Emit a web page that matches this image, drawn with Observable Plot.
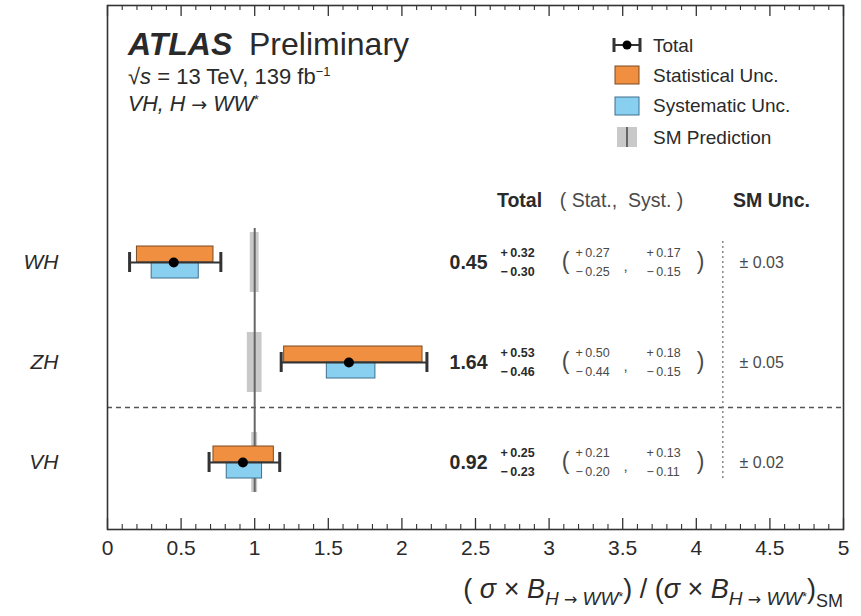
<!DOCTYPE html>
<html><head><meta charset="utf-8">
<script src="https://cdn.jsdelivr.net/npm/d3@7"></script>
<script src="https://cdn.jsdelivr.net/npm/@observablehq/plot@0.6"></script>
<style>body{margin:0;background:#fff} svg{display:block}</style>
</head><body><div id="chart"></div>
<script>
// ---- data ----
const categories = ["WH", "ZH", "VH"];
const positions = [3, 2, 1];
const mu = [0.45, 1.64, 0.92];
const totUp = [0.32, 0.53, 0.25];
const totDn = [0.30, 0.46, 0.23];
const statUp = [0.27, 0.50, 0.21];
const statDn = [0.25, 0.44, 0.20];
const systUp = [0.17, 0.18, 0.13];
const systDn = [0.15, 0.15, 0.11];
const smUnc = [0.03, 0.05, 0.02];
const smValue = 1;
const xTicks = [0, 0.5, 1, 1.5, 2, 2.5, 3, 3.5, 4, 4.5, 5];
const xTickLabels = ["0", "0.5", "1", "1.5", "2", "2.5", "3", "3.5", "4", "4.5", "5"];
const minorTicks = d3.range(0, 51).map(i => i / 10).filter(v => Math.abs(v * 2 - Math.round(v * 2)) > 1e-6);

const rows = categories.map((c, i) => ({
  cat: c, pos: positions[i], mu: mu[i],
  totUp: totUp[i], totDn: totDn[i], statUp: statUp[i], statDn: statDn[i],
  systUp: systUp[i], systDn: systDn[i], sm: smUnc[i]
}));

const W = 861, H = 616, mL = 107, mR = 18, mT = 5, mB = 87;
const FH = H - mT - mB;
const fmt = v => v.toFixed(2);
const ORANGE = "#ef8f3f", ORANGE_S = "#7a4b22", BLUE = "#88cff0", BLUE_S = "#3e6f8c";
const INK = "#2a2a2a", GREY = "#4a4a4a";
const FONT = "'Liberation Sans', Arial, Helvetica, sans-serif";
const ARROWFONT = "'DejaVu Sans', sans-serif";
const NB = "\u00a0";

const chart = Plot.plot({
  width: W, height: H,
  marginLeft: mL, marginRight: mR, marginTop: mT, marginBottom: mB,
  style: {fontFamily: FONT, background: "#fff"},
  x: {domain: [0, 5], axis: null},
  y: {domain: [0.33, 5.57], axis: null},
  marks: [
    // ticks (inward)
    Plot.ruleX(xTicks, {x: d => d, insetTop: FH - 11, stroke: "#333", strokeWidth: 1.3}),
    Plot.ruleX(minorTicks, {x: d => d, insetTop: FH - 5, stroke: "#333", strokeWidth: 1.1}),
    Plot.ruleX(xTicks, {x: d => d, insetBottom: FH - 11, stroke: "#333", strokeWidth: 1.3}),
    Plot.ruleX(minorTicks, {x: d => d, insetBottom: FH - 5, stroke: "#333", strokeWidth: 1.1}),
    Plot.text(xTicks, {x: d => d, frameAnchor: "bottom", dy: 11, lineAnchor: "top",
      text: d => xTickLabels[xTicks.indexOf(d)], fontSize: 21, fill: INK}),
    // category labels
    Plot.text(rows, {y: "pos", frameAnchor: "left", dx: -49, textAnchor: "end", text: "cat",
      fontStyle: "italic", fontSize: 21, fill: INK}),
    // separators
    Plot.ruleY([1.55], {stroke: "#555", strokeWidth: 1.5, strokeDasharray: "5,4"}),
    Plot.ruleX([4.18], {y1: 0.84, y2: 3.24, stroke: "#888", strokeWidth: 1.5, strokeDasharray: "2,3"}),
    // SM prediction
    Plot.rect(rows, {x1: d => smValue - d.sm, x2: d => smValue + d.sm, y1: d => d.pos - 0.3, y2: d => d.pos + 0.3, fill: "#c9c9c9"}),
    Plot.ruleX([smValue], {y1: 0.7, y2: 3.34, stroke: "#666", strokeWidth: 2}),
    // stat & syst boxes
    Plot.rect(rows, {x1: d => d.mu - d.statDn, x2: d => d.mu + d.statUp, y1: "pos", y2: d => d.pos + 0.16,
      fill: ORANGE, stroke: ORANGE_S, strokeWidth: 1}),
    Plot.rect(rows, {x1: d => d.mu - d.systDn, x2: d => d.mu + d.systUp, y1: d => d.pos - 0.16, y2: "pos",
      fill: BLUE, stroke: BLUE_S, strokeWidth: 1}),
    // total error bar
    Plot.ruleY(rows, {y: "pos", x1: d => d.mu - d.totDn, x2: d => d.mu + d.totUp, stroke: "#333", strokeWidth: 2}),
    Plot.ruleX(rows, {x: d => d.mu - d.totDn, y1: d => d.pos - 0.1, y2: d => d.pos + 0.1, stroke: "#333", strokeWidth: 3}),
    Plot.ruleX(rows, {x: d => d.mu + d.totUp, y1: d => d.pos - 0.1, y2: d => d.pos + 0.1, stroke: "#333", strokeWidth: 3}),
    Plot.dot(rows, {x: "mu", y: "pos", r: 5, fill: "#000", stroke: "none"}),
    // value columns
    Plot.text(rows, {y: "pos", frameAnchor: "left", dx: 380, textAnchor: "end", text: d => fmt(d.mu),
      fontSize: 19.5, fontWeight: "bold", fill: INK}),
    Plot.text(rows, {y: "pos", frameAnchor: "left", dx: 393, dy: -10, textAnchor: "start", text: d => "+\u2009" + fmt(d.totUp),
      fontSize: 12.5, fontWeight: "bold", fill: INK}),
    Plot.text(rows, {y: "pos", frameAnchor: "left", dx: 393, dy: 9, textAnchor: "start", text: d => "\u2212\u2009" + fmt(d.totDn),
      fontSize: 12.5, fontWeight: "bold", fill: INK}),
    Plot.text(rows, {y: "pos", frameAnchor: "left", dx: 458, dy: -1, textAnchor: "middle", text: d => "(",
      fontSize: 23, fill: GREY}),
    Plot.text(rows, {y: "pos", frameAnchor: "left", dx: 468, dy: -10, textAnchor: "start", text: d => "+\u2009" + fmt(d.statUp),
      fontSize: 12.5, fill: GREY}),
    Plot.text(rows, {y: "pos", frameAnchor: "left", dx: 468, dy: 9, textAnchor: "start", text: d => "\u2212\u2009" + fmt(d.statDn),
      fontSize: 12.5, fill: GREY}),
    Plot.text(rows, {y: "pos", frameAnchor: "left", dx: 518, dy: 4, textAnchor: "middle", text: d => ",",
      fontSize: 15, fill: GREY}),
    Plot.text(rows, {y: "pos", frameAnchor: "left", dx: 539, dy: -10, textAnchor: "start", text: d => "+\u2009" + fmt(d.systUp),
      fontSize: 12.5, fill: GREY}),
    Plot.text(rows, {y: "pos", frameAnchor: "left", dx: 539, dy: 9, textAnchor: "start", text: d => "\u2212\u2009" + fmt(d.systDn),
      fontSize: 12.5, fill: GREY}),
    Plot.text(rows, {y: "pos", frameAnchor: "left", dx: 593, dy: -1, textAnchor: "middle", text: d => ")",
      fontSize: 23, fill: GREY}),
    Plot.text(rows, {y: "pos", frameAnchor: "left", dx: 632, textAnchor: "start", text: d => "\u00b1 " + fmt(d.sm),
      fontSize: 16, fill: GREY}),
    // column headers
    Plot.text(["Total"], {frameAnchor: "top-left", dx: 412, dy: 195, lineAnchor: "middle", textAnchor: "middle", text: d => d,
      fontSize: 19.5, fontWeight: "bold", fill: INK}),
    Plot.text(["( Stat.,  Syst. )"], {frameAnchor: "top-left", dx: 514, dy: 195, lineAnchor: "middle", textAnchor: "middle", text: d => d,
      fontSize: 19.5, fill: GREY}),
    Plot.text(["SM Unc."], {frameAnchor: "top-left", dx: 664, dy: 195, lineAnchor: "middle", textAnchor: "middle", text: d => d,
      fontSize: 19.5, fontWeight: "bold", fill: INK}),
    Plot.frame({stroke: "#333", strokeWidth: 1.6})
  ]
});

document.getElementById("chart").appendChild(chart);
const svg = d3.select(chart);

function richText(x, y, anchor, parts, base) {
  const t = svg.append("text").attr("x", x).attr("y", y).attr("text-anchor", anchor)
    .attr("fill", INK).attr("font-family", FONT);
  let cur = 0;
  for (const p of parts) {
    const o = p.o || 0;
    const s = t.append("tspan").attr("dy", o - cur).attr("font-size", p.s || base).text(p.t);
    if (p.it) s.attr("font-style", "italic");
    if (p.b) s.attr("font-weight", "bold");
    if (p.f) s.attr("font-family", p.f);
    cur = o;
  }
  return t;
}

// header
richText(128, 55, "start", [{t: "ATLAS", b: true, it: true}], 32);
richText(249, 55, "start", [{t: "Preliminary"}], 32);
richText(128, 84, "start", [{t: "\u221a"}, {t: "s", it: true}, {t: " = 13 TeV, 139 fb"}, {t: "\u22121", s: 13, o: -8}], 22);
richText(128, 111, "start", [{t: "VH, H" + NB, it: true}, {t: "\u2192", f: ARROWFONT, s: 19}, {t: NB + "WW", it: true}, {t: "*", s: 13, o: -7}], 21.5);

// legend
const lg = svg.append("g");
lg.append("line").attr("x1", 614).attr("x2", 640).attr("y1", 45).attr("y2", 45).attr("stroke", "#333").attr("stroke-width", 2);
[614, 640].forEach(x => lg.append("line").attr("x1", x).attr("x2", x).attr("y1", 38).attr("y2", 52).attr("stroke", "#333").attr("stroke-width", 3));
lg.append("circle").attr("cx", 627).attr("cy", 45).attr("r", 4.5).attr("fill", "#000");
lg.append("rect").attr("x", 615).attr("y", 66).attr("width", 24).attr("height", 18).attr("fill", ORANGE).attr("stroke", ORANGE_S);
lg.append("rect").attr("x", 615).attr("y", 97).attr("width", 24).attr("height", 18).attr("fill", BLUE).attr("stroke", BLUE_S);
lg.append("rect").attr("x", 617).attr("y", 127).attr("width", 20).attr("height", 20).attr("fill", "#c9c9c9");
lg.append("line").attr("x1", 627).attr("x2", 627).attr("y1", 127).attr("y2", 147).attr("stroke", "#666").attr("stroke-width", 2);
[["Total", 45], ["Statistical Unc.", 75], ["Systematic Unc.", 105], ["SM Prediction", 137]].forEach(([t, y]) =>
  lg.append("text").attr("x", 653).attr("y", y).attr("dy", "0.35em").attr("font-size", 19)
    .attr("text-anchor", "start")
    .attr("font-family", FONT).attr("fill", INK).text(t));

// x-axis title
richText(843, 598, "end", [
  {t: "(" + NB}, {t: "\u03c3", it: true}, {t: NB + "\u00d7" + NB}, {t: "B", it: true},
  {t: "H" + NB, it: true, s: 19, o: 7}, {t: "\u2192", f: ARROWFONT, s: 16, o: 7}, {t: NB + "WW", it: true, s: 19, o: 7}, {t: "*", s: 12, o: 3},
  {t: ")" + NB + "/" + NB + "("}, {t: "\u03c3", it: true}, {t: NB + "\u00d7" + NB}, {t: "B", it: true},
  {t: "H" + NB, it: true, s: 19, o: 7}, {t: "\u2192", f: ARROWFONT, s: 16, o: 7}, {t: NB + "WW", it: true, s: 19, o: 7}, {t: "*", s: 12, o: 3},
  {t: ")"}, {t: "SM", s: 18, o: 9}
], 27);
</script>
</body></html>
